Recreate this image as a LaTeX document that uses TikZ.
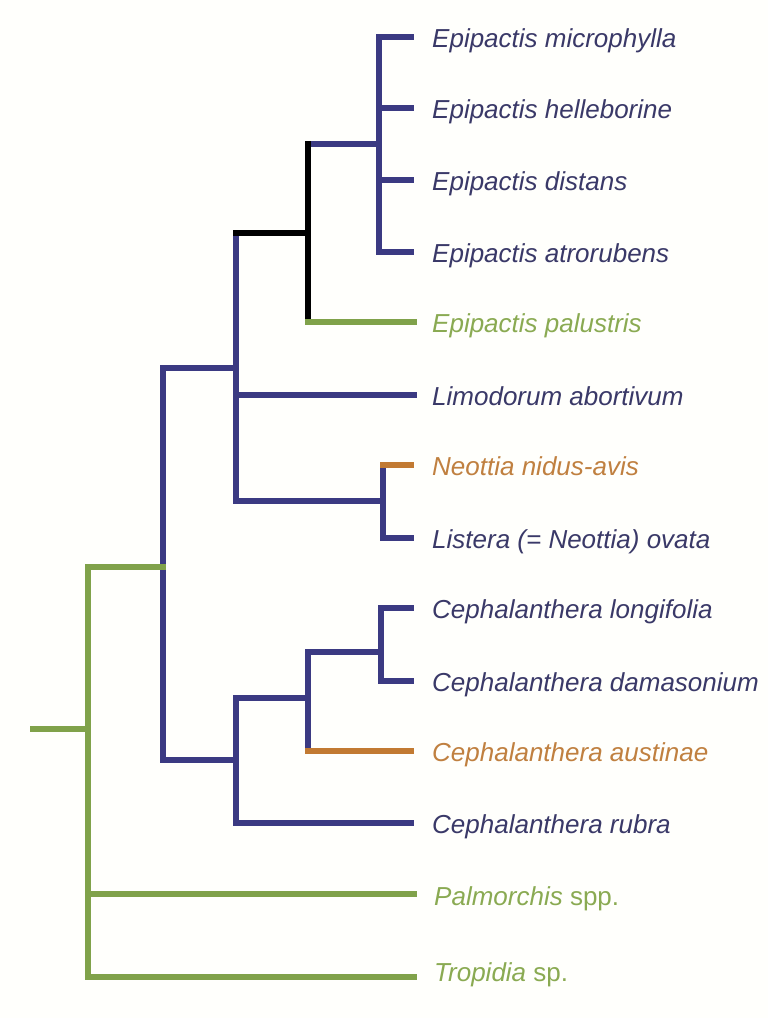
\documentclass[tikz,border=0pt]{standalone}
\usepackage{fontspec}
\setmainfont{Liberation Sans}
\definecolor{bl}{HTML}{3B3A82}
\definecolor{gr}{HTML}{80A24A}
\definecolor{og}{HTML}{C27A32}
\definecolor{tbl}{HTML}{3A3968}
\definecolor{tgr}{HTML}{8AAA52}
\definecolor{tog}{HTML}{C08040}
\definecolor{bg}{HTML}{FFFFFC}
\begin{document}
\begin{tikzpicture}[x=1pt,y=-1pt,
  br/.style={line width=6pt, line cap=rect, line join=miter},
  lab/.style={anchor=base west, inner sep=0pt, font=\fontsize{26}{30}\selectfont\itshape}]
\fill[bg] (0,0) rectangle (768,1018);
\useasboundingbox (0,0) rectangle (768,1018);
% tips
\coordinate (t1) at (411,37);
\coordinate (t2) at (411,108);
\coordinate (t3) at (411,180);
\coordinate (t4) at (411,252);
\coordinate (t5) at (414,322);
\coordinate (t6) at (414,395);
\coordinate (t7) at (411,465);
\coordinate (t8) at (411,538);
\coordinate (t9) at (411,608);
\coordinate (t10) at (411,681);
\coordinate (t11) at (411,751);
\coordinate (t12) at (411,823);
\coordinate (t13) at (414,894);
\coordinate (t14) at (414,977);
% internal nodes
\coordinate (A) at (379,144);
\coordinate (B) at (308,233);
\coordinate (C) at (236,368);
\coordinate (N) at (383,501);
\coordinate (D) at (163,567);
\coordinate (E) at (381,652);
\coordinate (F) at (308,698);
\coordinate (G) at (236,760);
\coordinate (R) at (88,729);
\coordinate (root) at (33,729);
% labels
\node[lab,text=tbl] (l1) at (432,47) {Epipactis microphylla};
\node[lab,text=tbl] (l2) at (432,118) {Epipactis helleborine};
\node[lab,text=tbl] (l3) at (432,190) {Epipactis distans};
\node[lab,text=tbl] (l4) at (432,262) {Epipactis atrorubens};
\node[lab,text=tgr] (l5) at (432,332) {Epipactis palustris};
\node[lab,text=tbl] (l6) at (432,405) {Limodorum abortivum};
\node[lab,text=tog] (l7) at (432,475) {Neottia nidus-avis};
\node[lab,text=tbl] (l8) at (432,548) {Listera (= Neottia) ovata};
\node[lab,text=tbl] (l9) at (432,618) {Cephalanthera longifolia};
\node[lab,text=tbl] (l10) at (432,691) {Cephalanthera damasonium};
\node[lab,text=tog] (l11) at (432,761) {Cephalanthera austinae};
\node[lab,text=tbl] (l12) at (432,833) {Cephalanthera rubra};
\node[lab,text=tgr] (l13) at (434,905) {Palmorchis\/ \upshape spp.};
\node[lab,text=tgr] (l14) at (434,981) {Tropidia\/ \upshape sp.};
% blue branches
\draw[br,bl] (A|-t1) -- (A|-t4);
\draw[br,bl] (A|-t1) -- (t1);
\draw[br,bl] (A|-t2) -- (t2);
\draw[br,bl] (A|-t3) -- (t3);
\draw[br,bl] (A|-t4) -- (t4);
\draw[br,bl] (B|-A) -- (A);
\draw[br,bl] (C|-B) -- (C|-N);
\draw[br,bl] (C|-t6) -- (t6);
\draw[br,bl] (C|-N) -- (N);
\draw[br,bl] (N|-t7) -- (N|-t8);
\draw[br,bl] (N|-t8) -- (t8);
\draw[br,bl] (D|-C) -- (C);
\draw[br,bl] (D|-C) -- (D|-G);
\draw[br,bl] (D|-G) -- (G);
\draw[br,bl] (G|-F) -- (G|-t12);
\draw[br,bl] (G|-F) -- (F);
\draw[br,bl] (G|-t12) -- (t12);
\draw[br,bl] (F|-E) -- (F|-t11);
\draw[br,bl] (F|-E) -- (E);
\draw[br,bl] (E|-t9) -- (E|-t10);
\draw[br,bl] (E|-t9) -- (t9);
\draw[br,bl] (E|-t10) -- (t10);
% black branches
\draw[br,black] (C|-B) -- (B);
\draw[br,black] (B|-A) -- (B|-t5);
% orange branches
\draw[br,og] (N|-t7) -- (t7);
\draw[br,og] (F|-t11) -- (t11);
% green branches
\draw[br,gr] (B|-t5) -- (t5);
\draw[br,gr] (root) -- (R);
\draw[br,gr] (R|-D) -- (R|-t14);
\draw[br,gr] (R|-D) -- (D);
\draw[br,gr] (R|-t13) -- (t13);
\draw[br,gr] (R|-t14) -- (t14);
\end{tikzpicture}
\end{document}
